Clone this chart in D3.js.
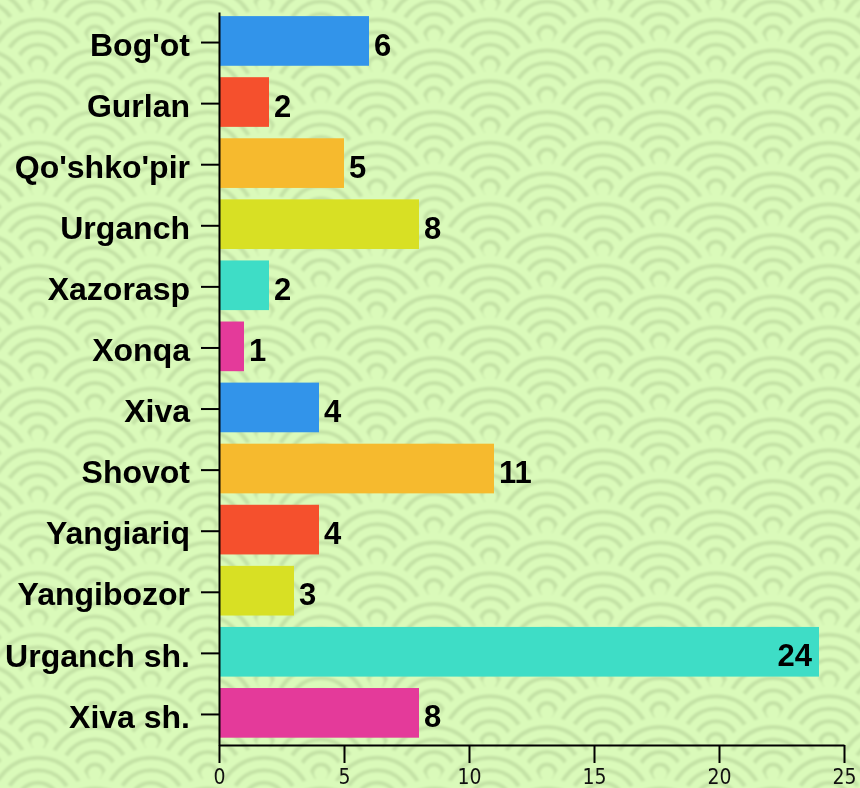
<!DOCTYPE html>
<html><head><meta charset="utf-8">
<script src="https://cdn.jsdelivr.net/npm/d3@7"></script>
<style>html,body{margin:0;padding:0;background:#DAFABA;} svg{display:block}</style>
</head><body><svg id="chart" width="860" height="788"></svg>
<script>
const categories = ["Bog'ot","Gurlan","Qo'shko'pir","Urganch","Xazorasp","Xonqa","Xiva","Shovot","Yangiariq","Yangibozor","Urganch sh.","Xiva sh."];
const values = [6,2,5,8,2,1,4,11,4,3,24,8];
const barColors = ["#3294EA","#F5502D","#F6BA2E","#D8E024","#3EDDC6","#E43A9A","#3294EA","#F6BA2E","#F5502D","#D8E024","#3EDDC6","#E43A9A"];
const xTicks = [0,5,10,15,20,25];
const xMax = 25;

const W = 860, H = 788;
const svg = d3.select("#chart");

// --- background seigaiha pattern (decoration) ---
const bgLight = "#DAFABA", bgDark = "#C4E2A6";
const defs = svg.append("defs");
defs.append("filter").attr("id","soft").attr("x","-5%").attr("y","-5%").attr("width","110%").attr("height","110%")
  .append("feGaussianBlur").attr("stdDeviation",0.9);
const bg = svg.append("g").attr("filter","url(#soft)");
bg.append("rect").attr("width",W).attr("height",H).attr("fill",bgLight);
const hx = 113, vy = 30.75;
const rings = [46.5, 34, 21.5, 9];
for (let j = 0; j < 30; j++) {
  const cy = -26 + j * vy;
  const off = (j % 2 === 0) ? 95 : 38;
  for (let cx = off - hx; cx < W + hx; cx += hx) {
    const g = bg.append("g").attr("transform", `translate(${cx},${cy})`);
    g.append("circle").attr("r", 56.5).attr("fill", bgLight);
    rings.forEach(r => g.append("circle").attr("r", r).attr("fill","none")
      .attr("stroke", bgDark).attr("stroke-width", 4.2));
  }
}

// --- chart ---
const x = d3.scaleLinear().domain([0, xMax]).range([219, 844]);
const y = d3.scaleBand().domain(categories).range([12, 745]).paddingInner(0.2).paddingOuter(0.1);

const data = categories.map((c, i) => ({c, v: values[i], color: barColors[i]}));

svg.append("g").selectAll("rect").data(data).join("rect")
  .attr("x", x(0))
  .attr("y", d => y(d.c) - 2)
  .attr("width", d => x(d.v) - x(0))
  .attr("height", y.bandwidth() + 0.8)
  .attr("fill", d => d.color);

const labelFont = "'Liberation Sans', Arial, Helvetica, sans-serif";
const inside = d => x(d.v) + 45 > x.range()[1];

svg.append("g").selectAll("text").data(data).join("text")
  .attr("x", d => inside(d) ? x(d.v) - 7 : x(d.v) + 5)
  .attr("y", d => y(d.c) + y.bandwidth() / 2)
  .attr("dy", "0.42em")
  .attr("text-anchor", d => inside(d) ? "end" : "start")
  .style("font-family", labelFont).style("font-weight", "bold").style("font-size", "31px")
  .attr("fill", "#000")
  .text(d => d.v);

const yAxis = svg.append("g").attr("transform", "translate(219,0)")
  .call(d3.axisLeft(y).tickSize(18).tickPadding(11).tickSizeOuter(0));
yAxis.select(".domain").attr("stroke", "#000").attr("stroke-width", 2);
yAxis.selectAll(".tick line").attr("stroke", "#000").attr("stroke-width", 2);
yAxis.selectAll(".tick text")
  .attr("dy", "0.41em")
  .style("font-family", labelFont).style("font-weight", "bold").style("font-size", "32px")
  .attr("fill", "#000");

const xAxis = svg.append("g").attr("transform", "translate(0,745)")
  .call(d3.axisBottom(x).tickValues(xTicks).tickSize(18).tickPadding(6).tickSizeOuter(0));
xAxis.select(".domain").attr("stroke", "#000").attr("stroke-width", 2);
xAxis.selectAll(".tick line").attr("stroke", "#000").attr("stroke-width", 2);
xAxis.selectAll(".tick text")
  .style("font-family", "'Liberation Sans Narrow', 'DejaVu Sans Condensed', 'Roboto Condensed', sans-serif")
  .style("font-size", "21px").attr("fill", "#111");
</script>
</body></html>
